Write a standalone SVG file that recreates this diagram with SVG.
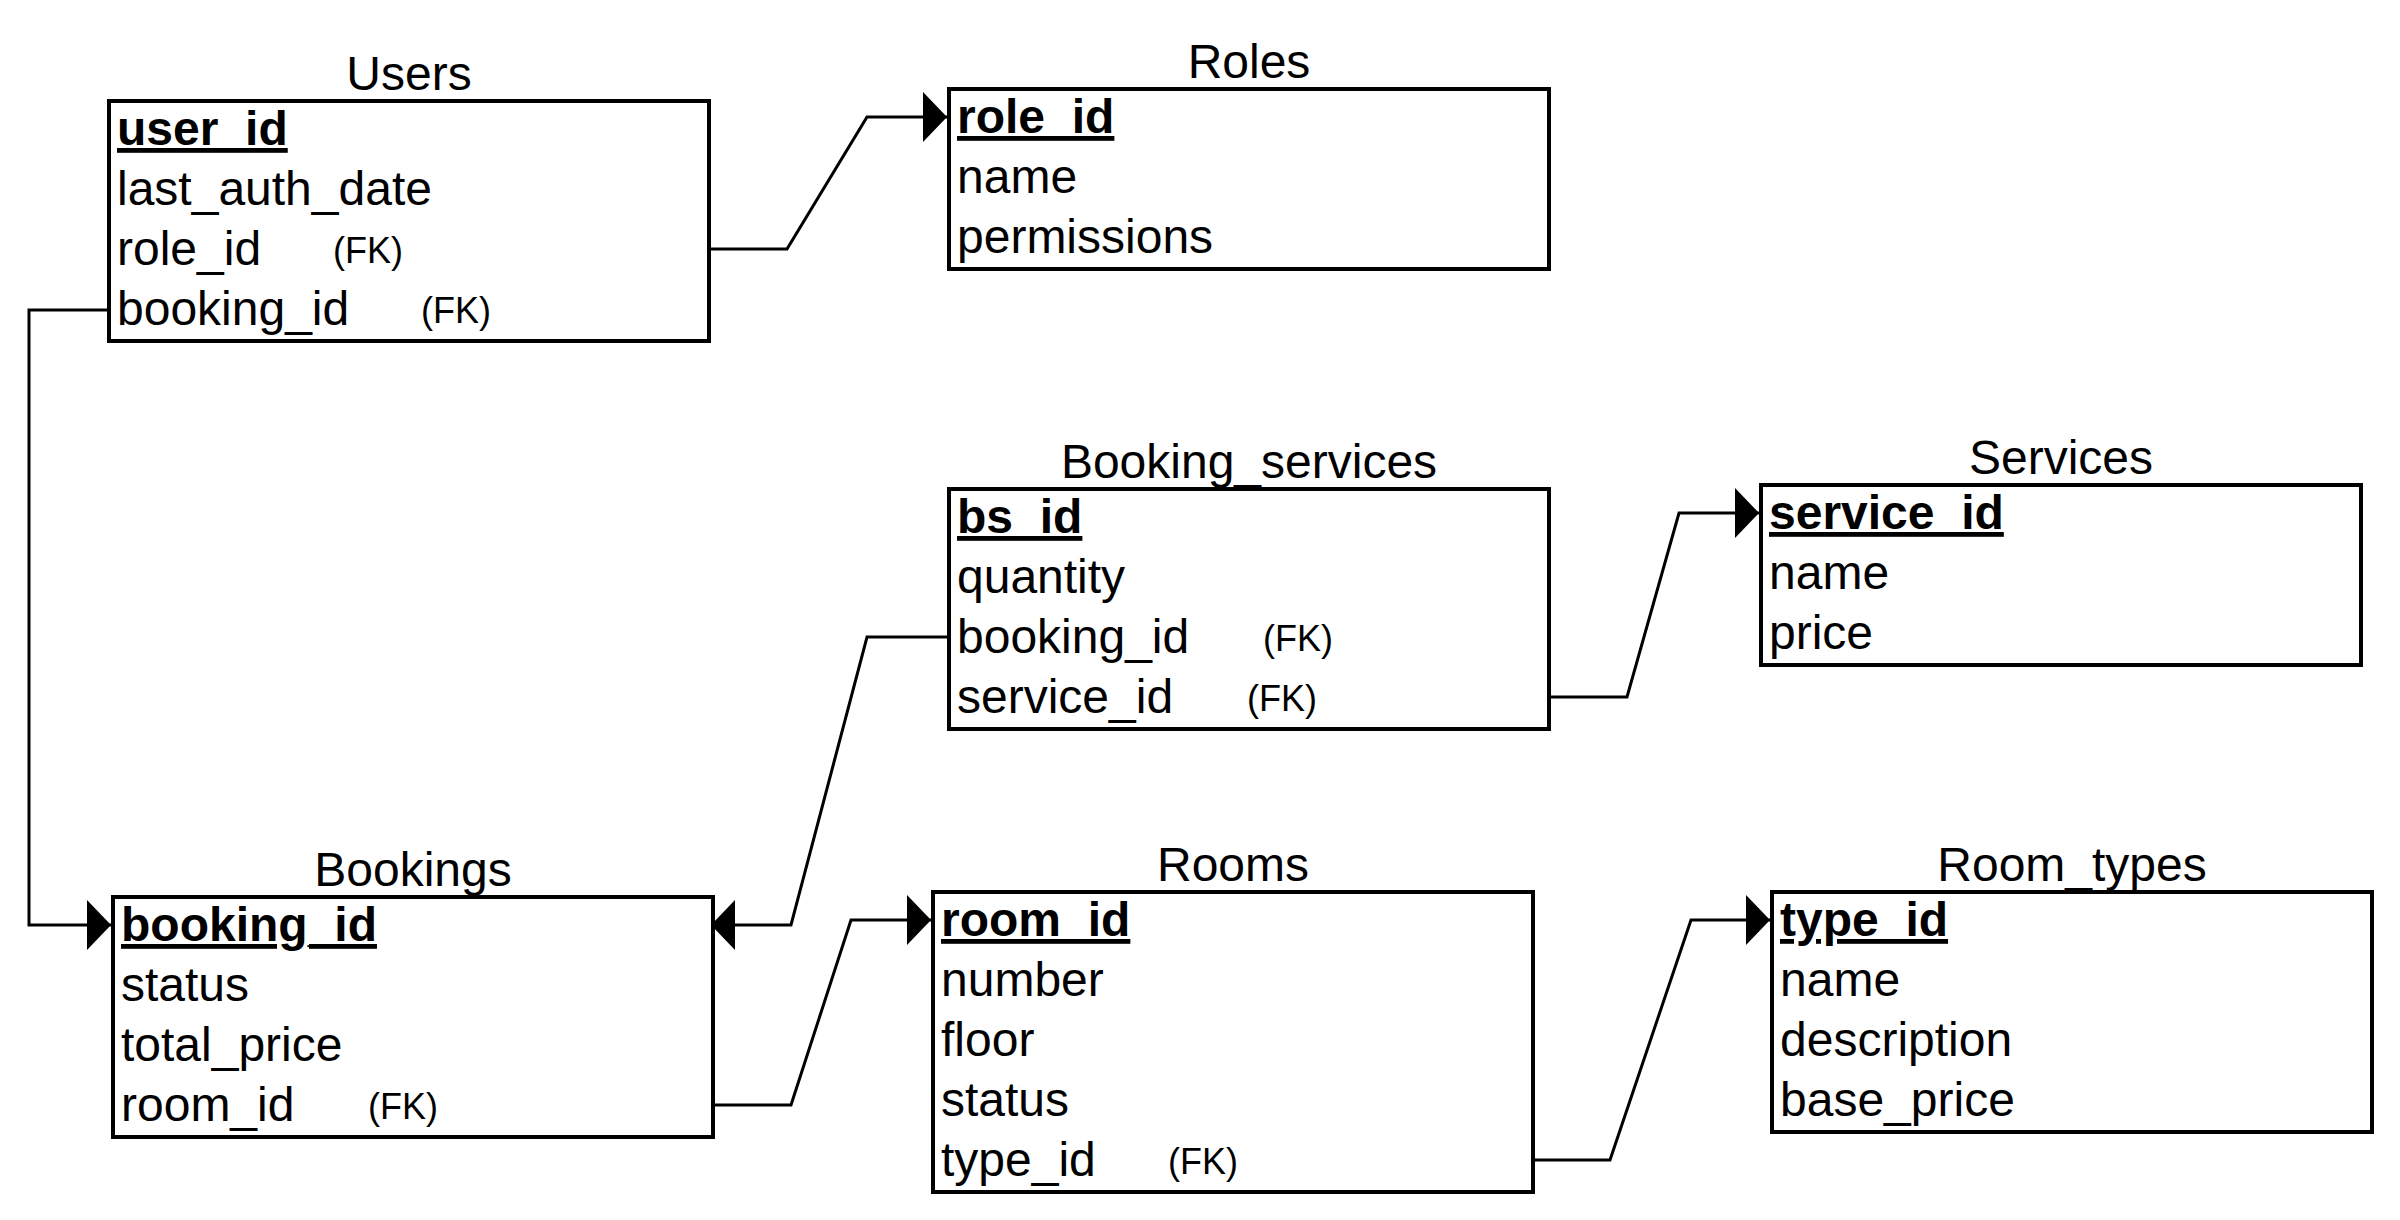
<svg xmlns="http://www.w3.org/2000/svg" width="2400" height="1220" viewBox="0 0 2400 1220">
<style>
.bg{fill:#ffffff}
.box{fill:#ffffff;stroke:#000000;stroke-width:4}
.title{font-family:"Liberation Sans",Arial,sans-serif;font-size:48px;fill:#000000;text-anchor:middle}
.row{font-family:"Liberation Sans",Arial,sans-serif;font-size:48px;fill:#000000}
.pk{font-weight:bold;text-decoration:underline;text-underline-offset:7px;text-decoration-thickness:4px}
.fk{font-family:"Liberation Sans",Arial,sans-serif;font-size:36px;fill:#000000}
.edge{fill:none;stroke:#000000;stroke-width:3;stroke-linejoin:miter}
</style>
<defs>
<marker id="arrow" markerUnits="userSpaceOnUse" viewBox="0 0 24 50" markerWidth="24" markerHeight="50" refX="24" refY="25" orient="auto">
<path d="M0,0 L24,25 L0,50 Z" fill="#000000"/>
</marker>
</defs>
<rect class="bg" x="0" y="0" width="2400" height="1220"/>

<g id="connectors">
<path class="edge" d="M709,249 L787,249 L867,117 L947,117" marker-end="url(#arrow)"/>
<path class="edge" d="M109,310 L29,310 L29,925 L111,925" marker-end="url(#arrow)"/>
<path class="edge" d="M949,637 L867,637 L791,925 L711,925" marker-end="url(#arrow)"/>
<path class="edge" d="M713,1105 L791,1105 L851,920 L931,920" marker-end="url(#arrow)"/>
<path class="edge" d="M1549,697 L1627,697 L1679,513 L1759,513" marker-end="url(#arrow)"/>
<path class="edge" d="M1533,1160 L1610,1160 L1691,920 L1770,920" marker-end="url(#arrow)"/>
</g>

<g id="users">
<text class="title" x="409" y="90">Users</text>
<rect class="box" x="109" y="101" width="600" height="240"/>
<text class="row pk" x="117" y="145">user_id</text>
<text class="row" x="117" y="205">last_auth_date</text>
<text class="row" x="117" y="265">role_id</text>
<text class="fk" x="333" y="263">(FK)</text>
<text class="row" x="117" y="325">booking_id</text>
<text class="fk" x="421" y="323">(FK)</text>
</g>

<g id="roles">
<text class="title" x="1249" y="78">Roles</text>
<rect class="box" x="949" y="89" width="600" height="180"/>
<text class="row pk" x="957" y="133">role_id</text>
<text class="row" x="957" y="193">name</text>
<text class="row" x="957" y="253">permissions</text>
</g>

<g id="booking_services">
<text class="title" x="1249" y="478">Booking_services</text>
<rect class="box" x="949" y="489" width="600" height="240"/>
<text class="row pk" x="957" y="533">bs_id</text>
<text class="row" x="957" y="593">quantity</text>
<text class="row" x="957" y="653">booking_id</text>
<text class="fk" x="1263" y="651">(FK)</text>
<text class="row" x="957" y="713">service_id</text>
<text class="fk" x="1247" y="711">(FK)</text>
</g>

<g id="services">
<text class="title" x="2061" y="474">Services</text>
<rect class="box" x="1761" y="485" width="600" height="180"/>
<text class="row pk" x="1769" y="529">service_id</text>
<text class="row" x="1769" y="589">name</text>
<text class="row" x="1769" y="649">price</text>
</g>

<g id="bookings">
<text class="title" x="413" y="886">Bookings</text>
<rect class="box" x="113" y="897" width="600" height="240"/>
<text class="row pk" x="121" y="941">booking_id</text>
<text class="row" x="121" y="1001">status</text>
<text class="row" x="121" y="1061">total_price</text>
<text class="row" x="121" y="1121">room_id</text>
<text class="fk" x="368" y="1119">(FK)</text>
</g>

<g id="rooms">
<text class="title" x="1233" y="881">Rooms</text>
<rect class="box" x="933" y="892" width="600" height="300"/>
<text class="row pk" x="941" y="936">room_id</text>
<text class="row" x="941" y="996">number</text>
<text class="row" x="941" y="1056">floor</text>
<text class="row" x="941" y="1116">status</text>
<text class="row" x="941" y="1176">type_id</text>
<text class="fk" x="1168" y="1174">(FK)</text>
</g>

<g id="room_types">
<text class="title" x="2072" y="881">Room_types</text>
<rect class="box" x="1772" y="892" width="600" height="240"/>
<text class="row pk" x="1780" y="936">type_id</text>
<text class="row" x="1780" y="996">name</text>
<text class="row" x="1780" y="1056">description</text>
<text class="row" x="1780" y="1116">base_price</text>
</g>
</svg>
